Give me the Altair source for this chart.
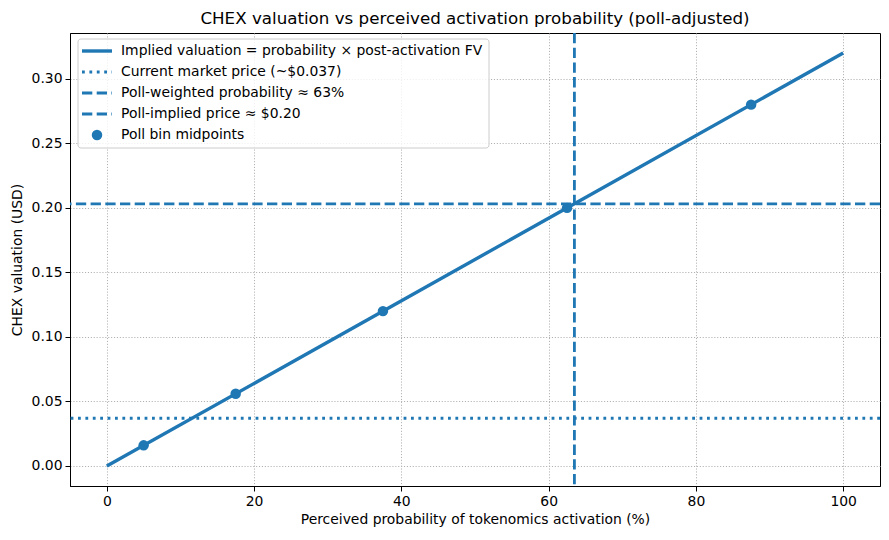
import altair as alt
import pandas as pd

BLUE = "#1f77b4"
FONT = "DejaVu Sans"

# Data
line_prob = [0, 100]
line_val = [0.0, 0.32]
poll_prob = [5, 17.5, 37.5, 62.5, 87.5]
poll_val = [0.016, 0.056, 0.12, 0.20, 0.28]
market_price = 0.037
poll_weighted_prob = 63.5
poll_implied_price = 0.2031
x_ticks = [0, 20, 40, 60, 80, 100]
y_ticks = [0.0, 0.05, 0.10, 0.15, 0.20, 0.25, 0.30]
legend_labels = [
    "Implied valuation = probability × post-activation FV",
    "Current market price (~$0.037)",
    "Poll-weighted probability ≈ 63%",
    "Poll-implied price ≈ $0.20",
    "Poll bin midpoints",
]

W, H = 810, 453
FS = 13.9
xs = alt.Scale(domain=[-5, 105], nice=False, zero=False)
ys = alt.Scale(domain=[-0.0155, 0.3355], nice=False, zero=False)

line_df = pd.DataFrame({"p": line_prob, "v": line_val})
pts_df = pd.DataFrame({"p": poll_prob, "v": poll_val})

xaxis = alt.Axis(values=x_ticks, title="Perceived probability of tokenomics activation (%)")
yaxis = alt.Axis(values=y_ticks, format=".2f", title="CHEX valuation (USD)")

main_line = alt.Chart(line_df).mark_line(color=BLUE, strokeWidth=3.4).encode(
    x=alt.X("p:Q", scale=xs, axis=xaxis),
    y=alt.Y("v:Q", scale=ys, axis=yaxis),
)
points = alt.Chart(pts_df).mark_point(filled=True, color=BLUE, size=110, opacity=1).encode(
    x=alt.X("p:Q", scale=xs), y=alt.Y("v:Q", scale=ys)
)
hmarket = alt.Chart(pd.DataFrame({"v": [market_price]})).mark_rule(
    color=BLUE, strokeWidth=2.8, strokeDash=[2.8, 4.6]
).encode(y=alt.Y("v:Q", scale=ys))
vprob = alt.Chart(pd.DataFrame({"p": [poll_weighted_prob]})).mark_rule(
    color=BLUE, strokeWidth=2.8, strokeDash=[10.3, 4.4]
).encode(x=alt.X("p:Q", scale=xs))
hprice = alt.Chart(pd.DataFrame({"v": [poll_implied_price]})).mark_rule(
    color=BLUE, strokeWidth=2.8, strokeDash=[10.3, 4.4]
).encode(y=alt.Y("v:Q", scale=ys))

# Legend (manual)
one = pd.DataFrame({"a": [0]})
LX, LY, LW, LH = 8, 6, 411, 109
row_y = [18 + 21 * i for i in range(5)]
legend_box = alt.Chart(one).mark_rect(
    fill="white", fillOpacity=0.8, stroke="#cccccc", strokeWidth=1, cornerRadius=3
).encode(x=alt.value(LX), x2=alt.value(LX + LW), y=alt.value(LY), y2=alt.value(LY + LH))

dashes = [None, [2.8, 4.6], [10.3, 4.4], [10.3, 4.4]]
widths = [3.4, 2.8, 2.8, 2.8]
legend_layers = [legend_box]
for i in range(4):
    kw = dict(color=BLUE, strokeWidth=widths[i])
    if dashes[i] is not None:
        kw["strokeDash"] = dashes[i]
    legend_layers.append(
        alt.Chart(one).mark_rule(**kw).encode(
            x=alt.value(12), x2=alt.value(42), y=alt.value(row_y[i])
        )
    )
legend_layers.append(
    alt.Chart(one).mark_point(filled=True, color=BLUE, size=110, opacity=1).encode(
        x=alt.value(27), y=alt.value(row_y[4])
    )
)
lab_df = pd.DataFrame({"label": legend_labels, "i": list(range(5))})
legend_text = alt.Chart(lab_df).transform_calculate(
    ypos="18 + 21 * datum.i"
).mark_text(align="left", baseline="middle", font=FONT, fontSize=FS, color="black").encode(
    x=alt.value(51), y=alt.Y("ypos:Q", scale=None), text="label:N"
)
legend_layers.append(legend_text)

chart = alt.layer(
    main_line, hmarket, vprob, hprice, points, *legend_layers
).properties(
    width=W,
    height=H,
    title=alt.Title(
        "CHEX valuation vs perceived activation probability (poll-adjusted)",
        font=FONT, fontSize=16.7, fontWeight="normal", color="black", offset=4,
    ),
    autosize=alt.AutoSizeParams(type="none"),
    padding={"left": 62, "top": 25, "right": 1, "bottom": 46},
).configure_view(
    stroke="black", strokeWidth=1
).configure_axis(
    labelFont=FONT, labelFontSize=FS, labelColor="black",
    titleFont=FONT, titleFontSize=FS, titleColor="black", titleFontWeight="normal",
    tickColor="black", tickSize=5, tickWidth=1, labelPadding=3,
    domainColor="black", domainWidth=1,
    grid=True, gridColor="#b0b0b0", gridDash=[1.1, 1.8], gridWidth=1,
).configure_axisX(titlePadding=5).configure_axisY(titlePadding=7)

chart.save("out.html", embed_options={"renderer": "svg", "actions": False})
